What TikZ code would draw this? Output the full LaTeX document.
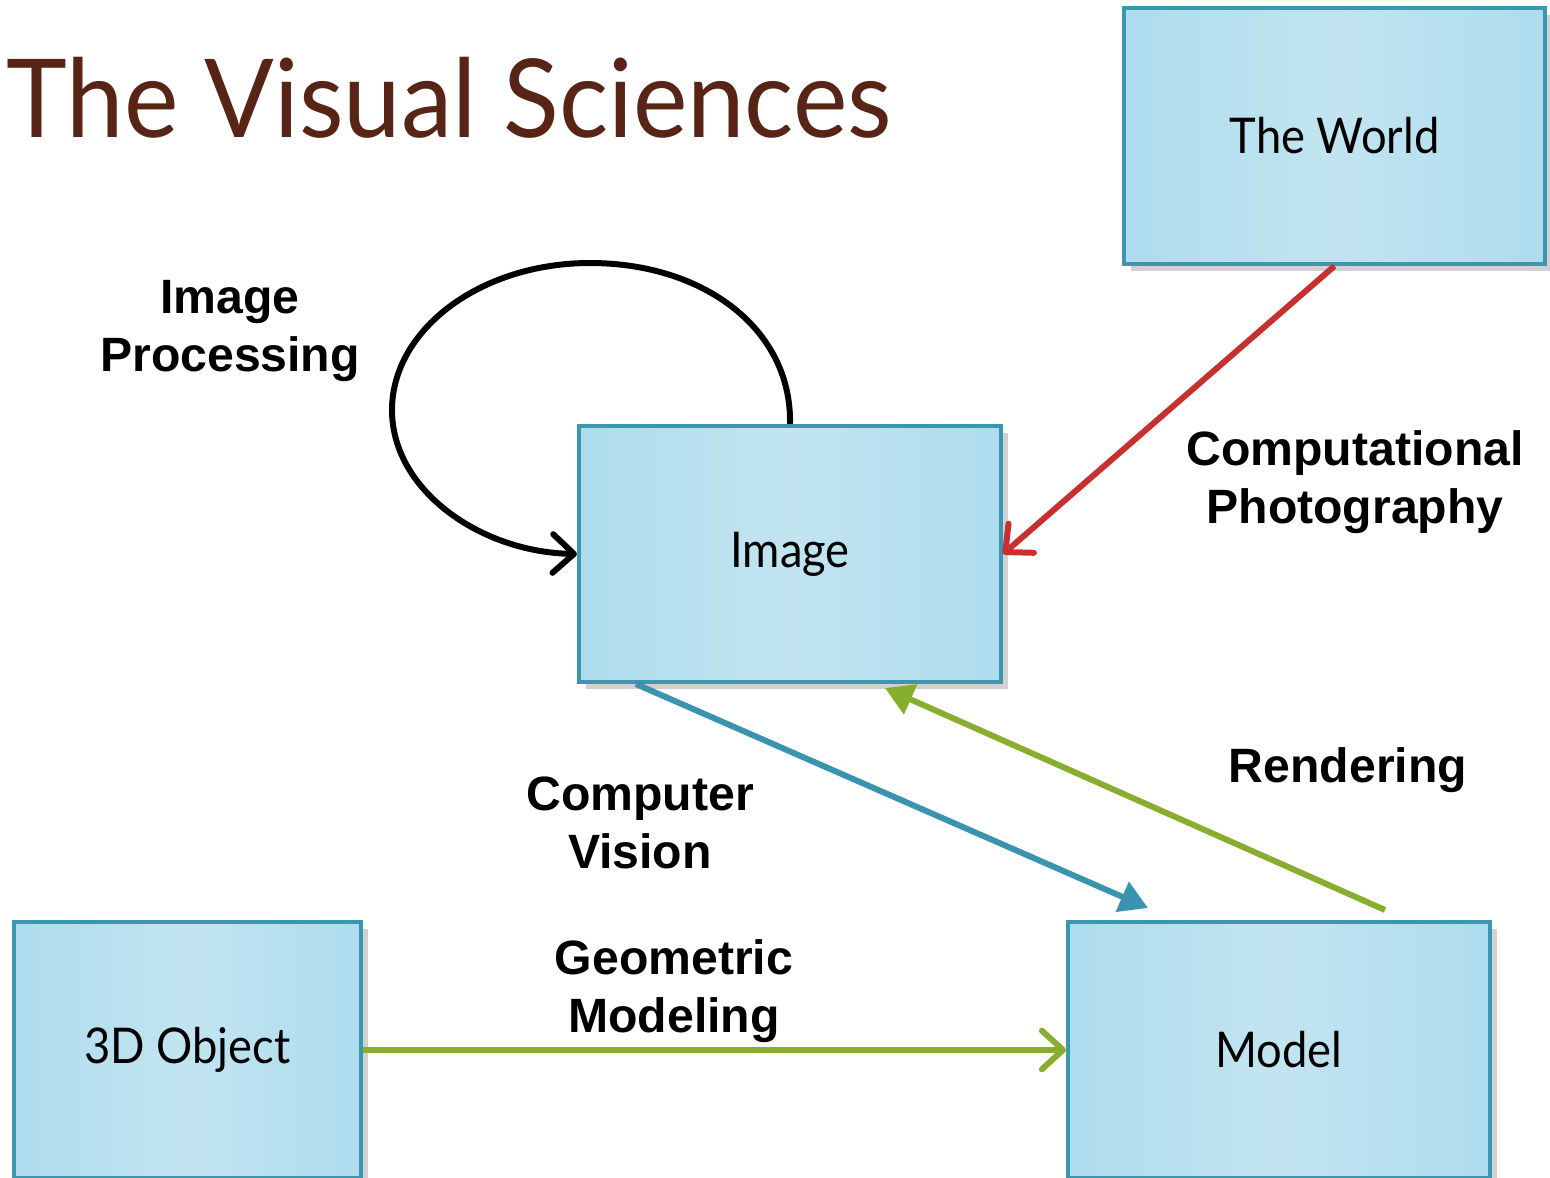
\documentclass[tikz,border=0pt]{standalone}
\usepackage{fontspec}
\newfontfamily\gill{Lato}[FakeStretch=0.92]
\newfontfamily\gilltitle{Lato}[FakeStretch=0.945]
\newfontfamily\arialb{Liberation Sans}
\usetikzlibrary{arrows.meta,calc,shadows}
\definecolor{boxedge}{HTML}{3C97AE}
\definecolor{boxmid}{HTML}{C2E4F0}
\definecolor{boxside}{HTML}{AEDCEE}
\definecolor{titlec}{HTML}{582416}
\definecolor{redc}{HTML}{C8302F}
\definecolor{bluec}{HTML}{3A94B0}
\definecolor{greenc}{HTML}{87AE2F}
\tikzset{
  bluebox/.style={draw=boxedge, line width=1.1pt, left color=boxside, right color=boxside, middle color=boxmid,
    minimum width=4.2cm, minimum height=2.56cm, inner sep=0pt,
    drop shadow={shadow xshift=2pt, shadow yshift=-2pt, fill=black, opacity=0.18},
    font=\gill\fontsize{14}{17}\selectfont},
  lbl/.style={font=\arialb\bfseries\fontsize{13.7}{16.5}\selectfont, align=center},
  conn/.style={line width=1.7pt},
  vtip/.style={-{Straight Barb[length=6pt,width=11pt,round]}},
  ttip/.style={-{Triangle[length=8pt,width=9pt]}},
}
\begin{document}
\begin{tikzpicture}[x=0.01cm,y=-0.01cm]
\useasboundingbox (0,0) rectangle (1550,1178);
% title
\node[anchor=base west, inner sep=0pt, text=titlec, font=\gilltitle\fontsize{31}{36}\selectfont] (title) at (6,137) {The Visual Sciences};
% boxes
\node[bluebox] (world) at (1334.5,136) {The World};
\node[bluebox, minimum width=4.22cm] (image) at (790,554) {Image};
\node[bluebox, minimum width=3.47cm] (obj) at (187.5,1050) {3D Object};
\node[bluebox, minimum width=4.22cm] (model) at (1279,1050) {Model};
% labels
\node[lbl] (lip) at (230,331) {Image\\Processing};
\node[lbl] (lcp) at (1355,482) {Computational\\Photography};
\node[lbl] (lr) at (1348,770) {Rendering};
\node[lbl] (lcv) at (640,823) {Computer\\Vision};
\node[lbl] (lgm) at (674,991) {Geometric\\Modeling};
% connectors
\coordinate (cvend) at (1148,908);
\coordinate (rstart) at (1385,910);
\draw[conn, redc, vtip] (world.south) -- (image.east);
\draw[conn, black, vtip] (image.north) .. controls (792,330) and (705,263) .. (590,263) .. controls (480,263) and (392,330) .. (392,410) .. controls (392,490) and (480,552) .. (image.west);
\draw[conn, bluec, ttip] ($(image.south west)+(59,0)$) -- (cvend);
\draw[conn, greenc, ttip] (rstart) -- ($(image.south west)+(308,4)$);
\draw[conn, greenc, vtip] (obj.east) -- (model.west);
\end{tikzpicture}
\end{document}
